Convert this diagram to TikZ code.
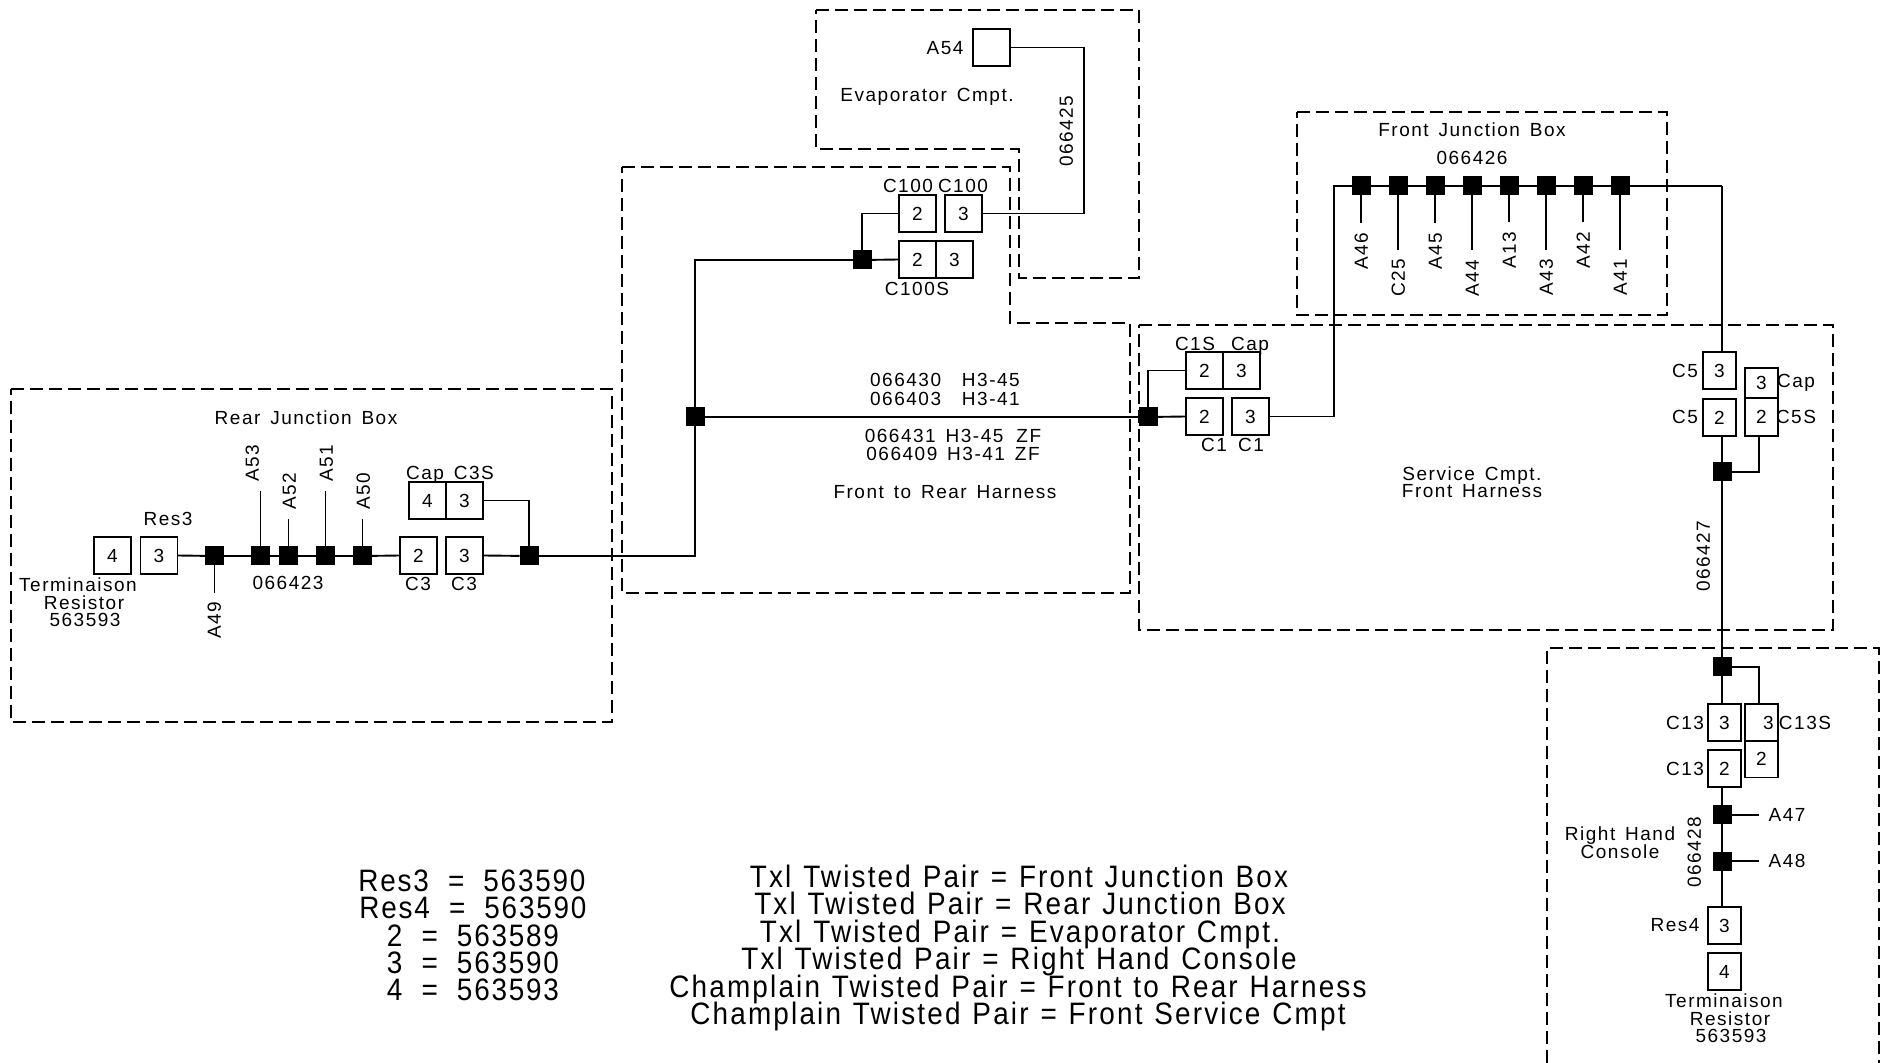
\documentclass[tikz,border=0pt]{standalone}
\usepackage{fontspec}
\setmainfont{Liberation Sans}
\newfontfamily\cadfont[LetterSpace=8,WordSpace=1.45]{Liberation Sans}
\newfontfamily\legfont[FakeStretch=0.9,LetterSpace=5.8]{Liberation Sans}
\newfontfamily\legwidefont[FakeStretch=0.9,LetterSpace=7,WordSpace=1.2]{Liberation Sans}
\tikzset{
  lbl/.style={inner sep=0pt,outer sep=0pt,text height=6.9pt,text depth=0pt,font=\cadfont\fontsize{9.5}{11}\selectfont},
  vlbl/.style={lbl,rotate=90},
  leg/.style={inner sep=0pt,outer sep=0pt,text height=11.1pt,text depth=0pt,font=\legfont\fontsize{15.5}{18}\selectfont},
  legwide/.style={leg,font=\legwidefont\fontsize{15.5}{18}\selectfont},
  pinbox/.style={draw=black,line width=0.85pt,inner sep=0pt,outer sep=0pt,minimum width=18.5pt,minimum height=18.5pt,text height=6.9pt,text depth=0pt,font=\cadfont\fontsize{9.5}{11}\selectfont},
  narrowbox/.style={pinbox,minimum width=16.5pt},
  splice/.style={fill=black,draw=none,inner sep=0pt,outer sep=0pt,minimum size=9.5pt},
  wire/.style={draw=black,line width=0.95pt},
  region/.style={draw=black,line width=0.7pt,dash pattern=on 6.5pt off 3pt},
}
\begin{document}
\begin{tikzpicture}[x=0.5pt,y=-0.5pt]
\useasboundingbox (0,0) rectangle (1886,1063);
\fill[white] (0,0) rectangle (1886,1063);

% dashed regions
\draw[region] (11,389) -- (612,389) -- (612,722) -- (11,722) -- cycle;
\draw[region] (816,10) -- (1139,10) -- (1139,278) -- (1019,278) -- (1019,149) -- (816,149) -- cycle;
\draw[region] (622,167) -- (1010,167) -- (1010,323) -- (1130,323) -- (1130,593) -- (622,593) -- cycle;
\draw[region] (1297,112) -- (1667,112) -- (1667,315) -- (1297,315) -- cycle;
\draw[region] (1139,325) -- (1833,325) -- (1833,630) -- (1139,630) -- cycle;
\draw[region] (1547,1063) -- (1547,648) -- (1879,648) -- (1879,1063);

% rear junction box
\node[pinbox] (rT4) at (112.5,555.5) {4};
\node[pinbox] (rR3) at (159,555.5) {3};
\node[splice] (j49) at (214.5,556) {};
\node[splice] (j53) at (260.5,556) {};
\node[splice] (j52) at (288.5,556) {};
\node[splice] (j51) at (325.5,556) {};
\node[splice] (j50) at (362.5,556) {};
\node[pinbox] (c3a) at (418.5,555.5) {2};
\node[pinbox] (c3b) at (464.5,555.5) {3};
\node[splice] (j3s) at (529,556) {};
\node[pinbox] (capA) at (427.5,500.5) {4};
\node[pinbox] (capB) at (464.5,500.5) {3};
\coordinate (e49) at (214.5,593);
\coordinate (e53) at (260.5,491);
\coordinate (e52) at (288.5,519);
\coordinate (e51) at (325.5,491);
\coordinate (e50) at (362.5,519);
\node[lbl] (tRear) at (306,418) {Rear Junction Box};
\node[lbl] (tRes3) at (168,519) {Res3};
\node[lbl] (tT1) at (78,585) {Terminaison};
\node[lbl] (tT2) at (84,603) {Resistor};
\node[lbl] (tT3) at (85,620) {563593};
\node[lbl] (t423) at (288,583) {066423};
\node[lbl] (tC3a) at (418,584) {C3};
\node[lbl] (tC3b) at (464,584) {C3};
\node[lbl] (tCapS) at (450,473) {Cap C3S};
\node[vlbl] (tA53) at (252,463) {A53};
\node[vlbl] (tA52) at (289,491) {A52};
\node[vlbl] (tA51) at (326,463) {A51};
\node[vlbl] (tA50) at (363,491) {A50};
\node[vlbl] (tA49) at (214,620) {A49};

% evaporator and C100
\node[pinbox] (a54) at (991.5,47.5) {};
\node[pinbox] (c100a) at (917.5,213.5) {2};
\node[pinbox] (c100b) at (963.5,213.5) {3};
\node[pinbox] (c100c) at (917.5,259.5) {2};
\node[pinbox] (c100d) at (954.5,259.5) {3};
\node[splice] (j100) at (862,260) {};
\coordinate (bend) at (1084,47.5);
\node[lbl] (tA54) at (945,48) {A54};
\node[lbl] (tEvap) at (927,95) {Evaporator Cmpt.};
\node[vlbl] (t425) at (1066,131) {066425};
\node[lbl] (tC100a) at (908,186) {C100};
\node[lbl] (tC100b) at (963,186) {C100};
\node[lbl] (tC100S) at (917,289) {C100S};

% front to rear harness
\node[splice] (jM) at (695,417) {};
\node[splice] (jF) at (1148,417) {};
\node[lbl] (t430) at (945,380) {066430\hspace{5.5pt} H3-45};
\node[lbl] (t403) at (945,399) {066403\hspace{5.5pt} H3-41};
\node[lbl] (t431) at (953,436) {066431 H3-45\hspace{1.6pt} ZF};
\node[lbl] (t409) at (953,454) {066409 H3-41 ZF};
\node[lbl] (tFR) at (945,492) {Front to Rear Harness};

% service compartment
\node[pinbox] (c1a) at (1204.5,416.5) {2};
\node[pinbox] (c1b) at (1250.5,416.5) {3};
\node[pinbox] (c1c) at (1204.5,370.5) {2};
\node[pinbox] (c1d) at (1241.5,370.5) {3};
\node[lbl] (tC1S) at (1195,344) {C1S};
\node[lbl] (tCap1) at (1250,344) {Cap};
\node[lbl] (tC1a) at (1214,445) {C1};
\node[lbl] (tC1b) at (1251,445) {C1};
\node[lbl] (tSvc1) at (1472,474) {Service Cmpt.};
\node[lbl] (tSvc2) at (1472,491) {Front Harness};

\node[narrowbox] (c5a) at (1719.5,370.5) {3};
\node[narrowbox] (c5b) at (1719.5,417.5) {2};
\node[narrowbox,minimum height=15pt] (c5c) at (1761.5,383) {3};
\node[narrowbox,minimum height=19pt] (c5d) at (1761.5,417) {2};
\node[splice] (j5) at (1722,472) {};
\node[lbl] (tC5a) at (1685,371) {C5};
\node[lbl] (tC5b) at (1685,417) {C5};
\node[lbl] (tCap5) at (1796,381) {Cap};
\node[lbl] (tC5S) at (1796,417) {C5S};
\node[vlbl] (t427) at (1703,556) {066427};

% front junction box
\node[splice] (f1) at (1361,186) {};
\node[splice] (f2) at (1398,186) {};
\node[splice] (f3) at (1435,186) {};
\node[splice] (f4) at (1472,186) {};
\node[splice] (f5) at (1509,186) {};
\node[splice] (f6) at (1546,186) {};
\node[splice] (f7) at (1583,186) {};
\node[splice] (f8) at (1620,186) {};
\coordinate (e1) at (1361,223);
\coordinate (e2) at (1398,250);
\coordinate (e3) at (1435,223);
\coordinate (e4) at (1472,250);
\coordinate (e5) at (1509,222);
\coordinate (e6) at (1546,250);
\coordinate (e7) at (1583,222);
\coordinate (e8) at (1620,250);
\coordinate (tl) at (1334,186);
\coordinate (tr) at (1722,186);
\node[lbl] (tFront) at (1472,130) {Front Junction Box};
\node[lbl] (t426) at (1472,158) {066426};
\node[vlbl] (tA46) at (1361,251) {A46};
\node[vlbl] (tC25) at (1398,278) {C25};
\node[vlbl] (tA45) at (1435,251) {A45};
\node[vlbl] (tA44) at (1472,278) {A44};
\node[vlbl] (tA13) at (1509,250) {A13};
\node[vlbl] (tA43) at (1546,277) {A43};
\node[vlbl] (tA42) at (1583,250) {A42};
\node[vlbl] (tA41) at (1620,277) {A41};

% right hand console
\node[splice] (j13) at (1722,667) {};
\node[narrowbox] (c13a) at (1724.5,722.5) {3};
\node[narrowbox] (c13b) at (1724.5,768.5) {2};
\node[narrowbox] (c13c) at (1761.5,722.5) {\hspace{7pt}3};
\node[narrowbox] (c13d) at (1761.5,759) {2};
\node[splice] (j47) at (1722,815) {};
\node[splice] (j48) at (1722,861) {};
\coordinate (e47) at (1759,815);
\coordinate (e48) at (1759,861);
\node[narrowbox] (r4a) at (1724.5,925.5) {3};
\node[narrowbox] (r4b) at (1724.5,971.5) {4};
\node[lbl] (tC13a) at (1685,723) {C13};
\node[lbl] (tC13b) at (1685,769) {C13};
\node[lbl] (tC13S) at (1805,723) {C13S};
\node[lbl] (tA47) at (1787,815) {A47};
\node[lbl] (tA48) at (1787,861) {A48};
\node[vlbl] (t428) at (1694,852) {066428};
\node[lbl] (tRH1) at (1620,834) {Right Hand};
\node[lbl] (tRH2) at (1620,852) {Console};
\node[lbl] (tRes4) at (1675,925) {Res4};
\node[lbl] (tT4) at (1724,1001) {Terminaison};
\node[lbl] (tT5) at (1730,1019) {Resistor};
\node[lbl] (tT6) at (1731,1036) {563593};

% wires
\draw[wire] (rR3.east) -- (j49) -- (j53) -- (j52) -- (j51) -- (j50) -- (c3a.west);
\draw[wire] (c3b.east) -- (j3s);
\draw[wire] (j49) -- (e49);
\draw[wire] (j53) -- (e53);
\draw[wire] (j52) -- (e52);
\draw[wire] (j51) -- (e51);
\draw[wire] (j50) -- (e50);
\draw[wire] (capB.east) -| (j3s);
\draw[wire] (j3s) -| (jM);
\draw[wire] (jM) |- (j100);
\draw[wire] (j100) -- (c100c.west);
\draw[wire] (j100) |- (c100a.west);
\draw[wire] (c100b.east) -| (bend) -- (a54.east);
\draw[wire] (jM) -- (jF);
\draw[wire] (jF) -- (c1a.west);
\draw[wire] (jF) |- (c1c.west);
\draw[wire] (c1b.east) -| (tl) -- (f1);
\draw[wire] (f1) -- (f2) -- (f3) -- (f4) -- (f5) -- (f6) -- (f7) -- (f8) -- (tr);
\foreach \i in {1,...,8} \draw[wire] (f\i) -- (e\i);
\draw[wire] (tr) -- (tr |- c5a.north);
\draw[wire] (tr |- c5b.south) -- (j5);
\draw[wire] (j5) -| (c5d.south -| 1759,0);
\draw[wire] (j5) -- (j13);
\draw[wire] (j13) -- (j13 |- c13a.north);
\draw[wire] (j13) -| (1759,704);
\draw[wire] (j13 |- c13b.south) -- (j47) -- (j48) -- (j48 |- r4a.north);
\draw[wire] (j47) -- (e47);
\draw[wire] (j48) -- (e48);

% legend
\node[leg] (lg1) at (472,880) {Res3 \ = \ 563590};
\node[leg] (lg2) at (473,907) {Res4 \ = \ 563590};
\node[leg] (lg3) at (473,935) {2 \ = \ 563589};
\node[leg] (lg4) at (473,962) {3 \ = \ 563590};
\node[leg] (lg5) at (473,989) {4 \ = \ 563593};
\node[legwide] (lh1) at (1019,876) {Txl Twisted Pair = Front Junction Box};
\node[legwide] (lh2) at (1020,903) {Txl Twisted Pair = Rear Junction Box};
\node[legwide] (lh3) at (1020,931) {Txl Twisted Pair = Evaporator Cmpt.};
\node[legwide] (lh4) at (1019,958) {Txl Twisted Pair = Right Hand Console};
\node[legwide] (lh5) at (1018,986) {Champlain Twisted Pair = Front to Rear Harness};
\node[legwide] (lh6) at (1018,1013) {Champlain Twisted Pair = Front Service Cmpt};
\end{tikzpicture}
\end{document}
